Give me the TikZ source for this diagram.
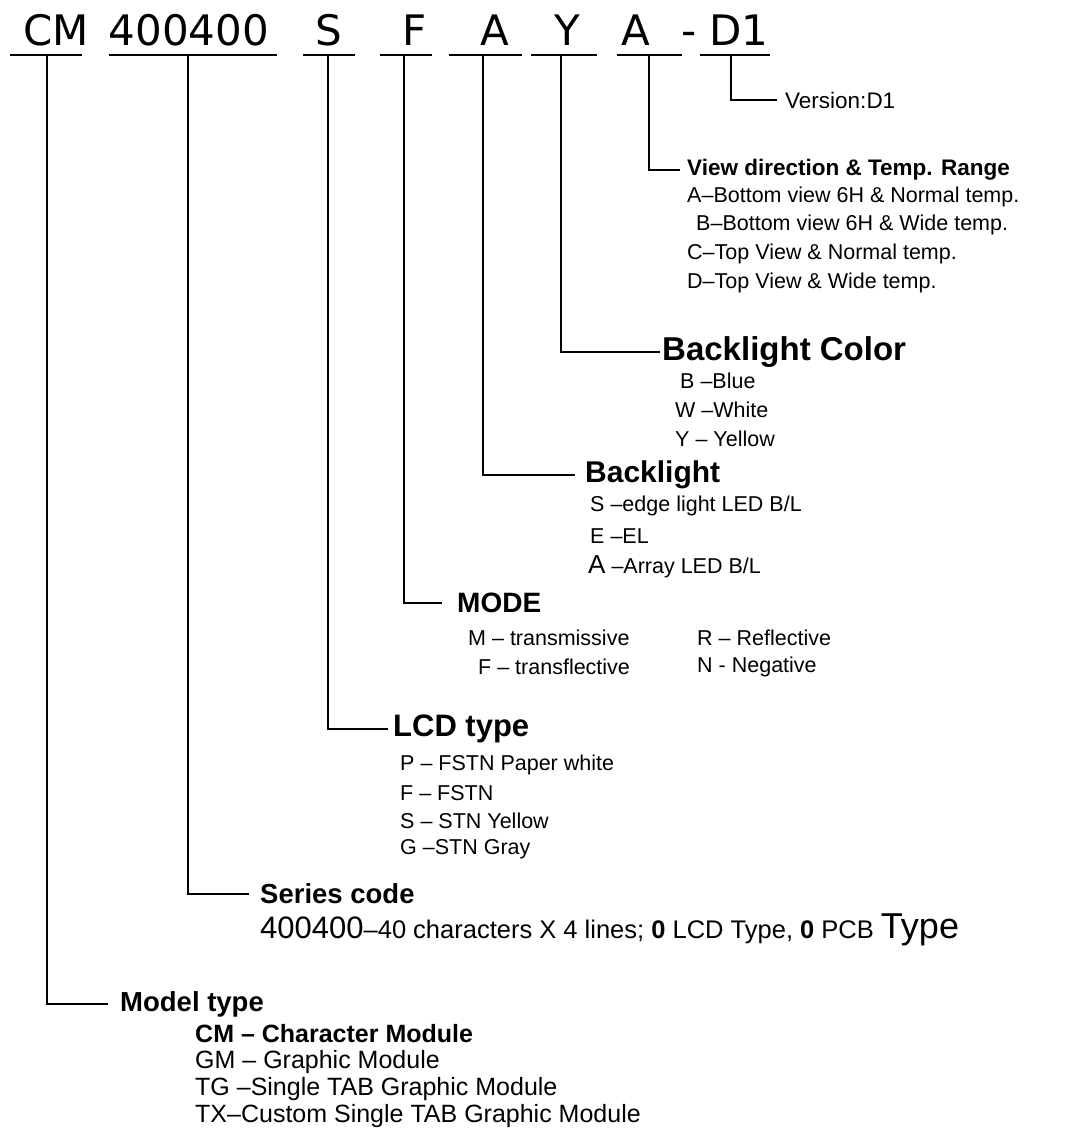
\documentclass[tikz,border=0pt]{standalone}
\usepackage{fontspec}
\setmainfont{Liberation Sans}
\newfontfamily\codefont{DejaVu Sans}
\newcommand\fs[1]{\fontsize{#1}{#1}\selectfont}

\begin{document}
\begin{tikzpicture}[x=1pt, y=-1pt,
    code/.style={font=\codefont\fs{42}, anchor=base, inner sep=0pt},
    rule/.style={line width=2.2pt},
    leader/.style={line width=1.8pt, shorten >=#1}, leader/.default=8pt,
    head/.style={anchor=west, inner sep=0pt, font=\bfseries\fs{#1}}, head/.default=28,
    item/.style={anchor=west, inner sep=0pt, font=\fs{21.5}}]
  \useasboundingbox (0,0) rectangle (1090,1135);

  % ---------- part number along the top ----------
  \node[code] (cm)   at (56,45)  {CM};
  \node[code] (ser)  at (189,45) {400400};
  \node[code] (lcd)  at (329,45) {S};
  \node[code] (mode) at (415,45) {F};
  \node[code] (bl)   at (495,45) {A};
  \node[code] (blc)  at (567,45) {Y};
  \node[code] (view) at (636,45) {A};
  \node[code] (dash) at (689,45) {-};
  \node[code] (ver)  at (739,45) {D1};

  % underlines below each field
  \draw[rule] (10,55) -- (82,55);
  \draw[rule] (109,55) -- (277,55);
  \draw[rule] (303,55) -- (355,55);
  \draw[rule] (380,55) -- (432,55);
  \draw[rule] (449,55) -- (522,55);
  \draw[rule] (531,55) -- (597,55);
  \draw[rule] (617,55) -- (682,55);
  \draw[rule] (700,55) -- (770,55);

  % where the leaders leave the underlines
  \coordinate (cmStem)   at (47,55);
  \coordinate (serStem)  at (188,55);
  \coordinate (lcdStem)  at (328,55);
  \coordinate (modeStem) at (404,55);
  \coordinate (blStem)   at (483,55);
  \coordinate (blcStem)  at (561,55);
  \coordinate (viewStem) at (649,55);
  \coordinate (verStem)  at (731,55);

  % ---------- version ----------
  \node[item, font=\fs{22.5}] (verH) at (785,100) {Version:D1};

  % ---------- view direction ----------
  \node[head=22.5] (viewH) at (687,170) {View direction \& Temp. Range};
  \node[item] (viewA) at (687,197) {A–Bottom view 6H \& Normal temp.};
  \node[item] (viewB) at (696,225) {B–Bottom view 6H \& Wide temp.};
  \node[item] (viewC) at (687,254) {C–Top View \& Normal temp.};
  \node[item] (viewD) at (687,283) {D–Top View \& Wide temp.};

  % ---------- backlight color ----------
  \node[head=33] (blcH) at (662,352) {Backlight Color};
  \node[item] (blcB) at (680,381) {B –Blue};
  \node[item] (blcW) at (675,410) {W –White};
  \node[item] (blcY) at (675,439) {Y – Yellow};

  % ---------- backlight ----------
  \node[head=30] (blH) at (585,475) {Backlight};
  \node[item] (blS) at (590,506) {S –edge light LED B/L};
  \node[item] (blE) at (590,536) {E –EL};
  \node[item] (blA) at (588,567) {{\fs{26}A} –Array LED B/L};

  % ---------- mode ----------
  \node[head=28] (modeH) at (457,603) {MODE};
  \node[item] (modeM) at (468,638) {M – transmissive};
  \node[item] (modeR) at (697,638) {R – Reflective};
  \node[item] (modeF) at (478,667) {F – transflective};
  \node[item] (modeN) at (697,667) {N - Negative};

  % ---------- lcd type ----------
  \node[head=31] (lcdH) at (393,729) {LCD type};
  \node[item] (lcdP) at (400,765) {P – FSTN Paper white};
  \node[item] (lcdF) at (400,793) {F – FSTN};
  \node[item] (lcdS) at (400,821) {S – STN Yellow};
  \node[item] (lcdG) at (400,849) {G –STN Gray};

  % ---------- series code ----------
  \node[head=27.5] (serH) at (260,894) {Series code};
  \node[item, font=\fs{25.5}] (serL) at (260,930)
    {{\fs{31}400400}–40 characters X 4 lines; \textbf{0} LCD Type, \textbf{0} PCB {\fs{36}Type}};

  % ---------- model type ----------
  \node[head=27.5] (cmH) at (120,1004) {Model type};
  \node[item, font=\bfseries\fs{25}] (cmC) at (195,1034) {CM – Character Module};
  \node[item, font=\fs{25}] (cmG) at (195,1062) {GM – Graphic Module};
  \node[item, font=\fs{25}] (cmT) at (195,1089) {TG –Single TAB Graphic Module};
  \node[item, font=\fs{25}] (cmX) at (195,1116) {TX–Custom Single TAB Graphic Module};

  % ---------- leaders ----------
  \draw[leader] (verStem)  |- (verH.west);
  \draw[leader=7pt] (viewStem) |- (viewH.west);
  \draw[leader=2pt] (blcStem)  |- (blcH.west);
  \draw[leader=10pt] (blStem)   |- (blH.west);
  \draw[leader=15pt] (modeStem) |- (modeH.west);
  \draw[leader=5pt] (lcdStem)  |- (lcdH.west);
  \draw[leader=11pt] (serStem)  |- (serH.west);
  \draw[leader=12pt] (cmStem)   |- (cmH.west);
\end{tikzpicture}
\end{document}
